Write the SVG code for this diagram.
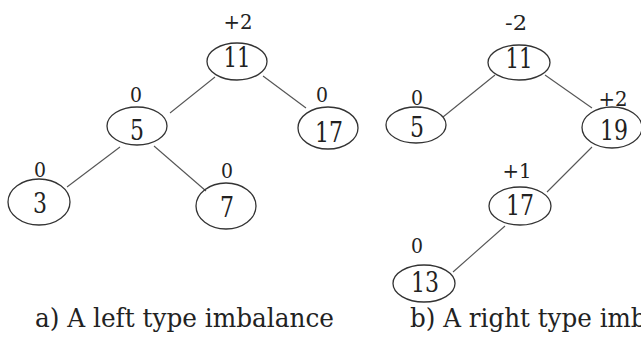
<svg xmlns="http://www.w3.org/2000/svg" width="641" height="338" viewBox="0 0 641 338">
<style>
.n{fill:none;stroke:#333;stroke-width:1.3}
.e{stroke:#555;stroke-width:1.1;fill:none}
text{font-family:"DejaVu Serif","Liberation Serif",serif;fill:#222;lengthAdjust:spacingAndGlyphs}
.v{font-size:28px;text-anchor:middle}
.b{font-size:21px;text-anchor:middle}
.c{font-size:26px}
</style>
<rect width="641" height="338" fill="#fff"/>
<g id="connectors">
<line class="e" x1="215" y1="77" x2="170" y2="113"/>
<line class="e" x1="263" y1="76" x2="306" y2="108"/>
<line class="e" x1="120" y1="147" x2="67" y2="187"/>
<line class="e" x1="154" y1="146" x2="206" y2="191"/>
<line class="e" x1="495" y1="75" x2="443" y2="117"/>
<line class="e" x1="545" y1="75" x2="592" y2="108"/>
<line class="e" x1="592" y1="147" x2="547" y2="192"/>
<line class="e" x1="505" y1="226" x2="453" y2="272"/>
</g>
<g id="a11"><ellipse class="n" cx="237" cy="61.5" rx="30" ry="18.5"/><text class="v" x="237" y="67" textLength="27" lengthAdjust="spacingAndGlyphs">11</text><text class="b" x="238" y="29" textLength="29" lengthAdjust="spacingAndGlyphs">+2</text></g>
<g id="a5"><ellipse class="n" cx="137" cy="126" rx="30" ry="19"/><text class="v" x="137" y="140" textLength="14" lengthAdjust="spacingAndGlyphs">5</text><text class="b" x="136" y="102" textLength="12" lengthAdjust="spacingAndGlyphs">0</text></g>
<g id="a17"><ellipse class="n" cx="328" cy="128" rx="30" ry="21"/><text class="v" x="329" y="142" textLength="28" lengthAdjust="spacingAndGlyphs">17</text><text class="b" x="322" y="102" textLength="12" lengthAdjust="spacingAndGlyphs">0</text></g>
<g id="a3"><ellipse class="n" cx="39" cy="202" rx="31" ry="23"/><text class="v" x="40" y="213" textLength="14" lengthAdjust="spacingAndGlyphs">3</text><text class="b" x="40" y="177" textLength="12" lengthAdjust="spacingAndGlyphs">0</text></g>
<g id="a7"><ellipse class="n" cx="226" cy="206" rx="30" ry="23"/><text class="v" x="227" y="217" textLength="14" lengthAdjust="spacingAndGlyphs">7</text><text class="b" x="227" y="178" textLength="12" lengthAdjust="spacingAndGlyphs">0</text></g>
<g id="b11"><ellipse class="n" cx="519" cy="62.5" rx="31" ry="17.5"/><text class="v" x="519" y="68" textLength="27" lengthAdjust="spacingAndGlyphs">11</text><text class="b" x="516" y="30" textLength="22" lengthAdjust="spacingAndGlyphs">-2</text></g>
<g id="b5"><ellipse class="n" cx="416" cy="125" rx="30" ry="18"/><text class="v" x="417" y="137" textLength="14" lengthAdjust="spacingAndGlyphs">5</text><text class="b" x="417" y="105" textLength="12" lengthAdjust="spacingAndGlyphs">0</text></g>
<g id="b19"><ellipse class="n" cx="612" cy="127.5" rx="30" ry="20.5"/><text class="v" x="614" y="140" textLength="28" lengthAdjust="spacingAndGlyphs">19</text><text class="b" x="613" y="106" textLength="29" lengthAdjust="spacingAndGlyphs">+2</text></g>
<g id="b17"><ellipse class="n" cx="520" cy="206" rx="31" ry="19"/><text class="v" x="520" y="215" textLength="28" lengthAdjust="spacingAndGlyphs">17</text><text class="b" x="517" y="178" textLength="29" lengthAdjust="spacingAndGlyphs">+1</text></g>
<g id="b13"><ellipse class="n" cx="424" cy="283.5" rx="31" ry="18.5"/><text class="v" x="425" y="292" textLength="28" lengthAdjust="spacingAndGlyphs">13</text><text class="b" x="417" y="253" textLength="12" lengthAdjust="spacingAndGlyphs">0</text></g>
<text class="c" x="35" y="327" textLength="299" lengthAdjust="spacingAndGlyphs">a) A left type imbalance</text>
<text class="c" x="410" y="327" textLength="318" lengthAdjust="spacingAndGlyphs">b) A right type imbalance</text>
</svg>
